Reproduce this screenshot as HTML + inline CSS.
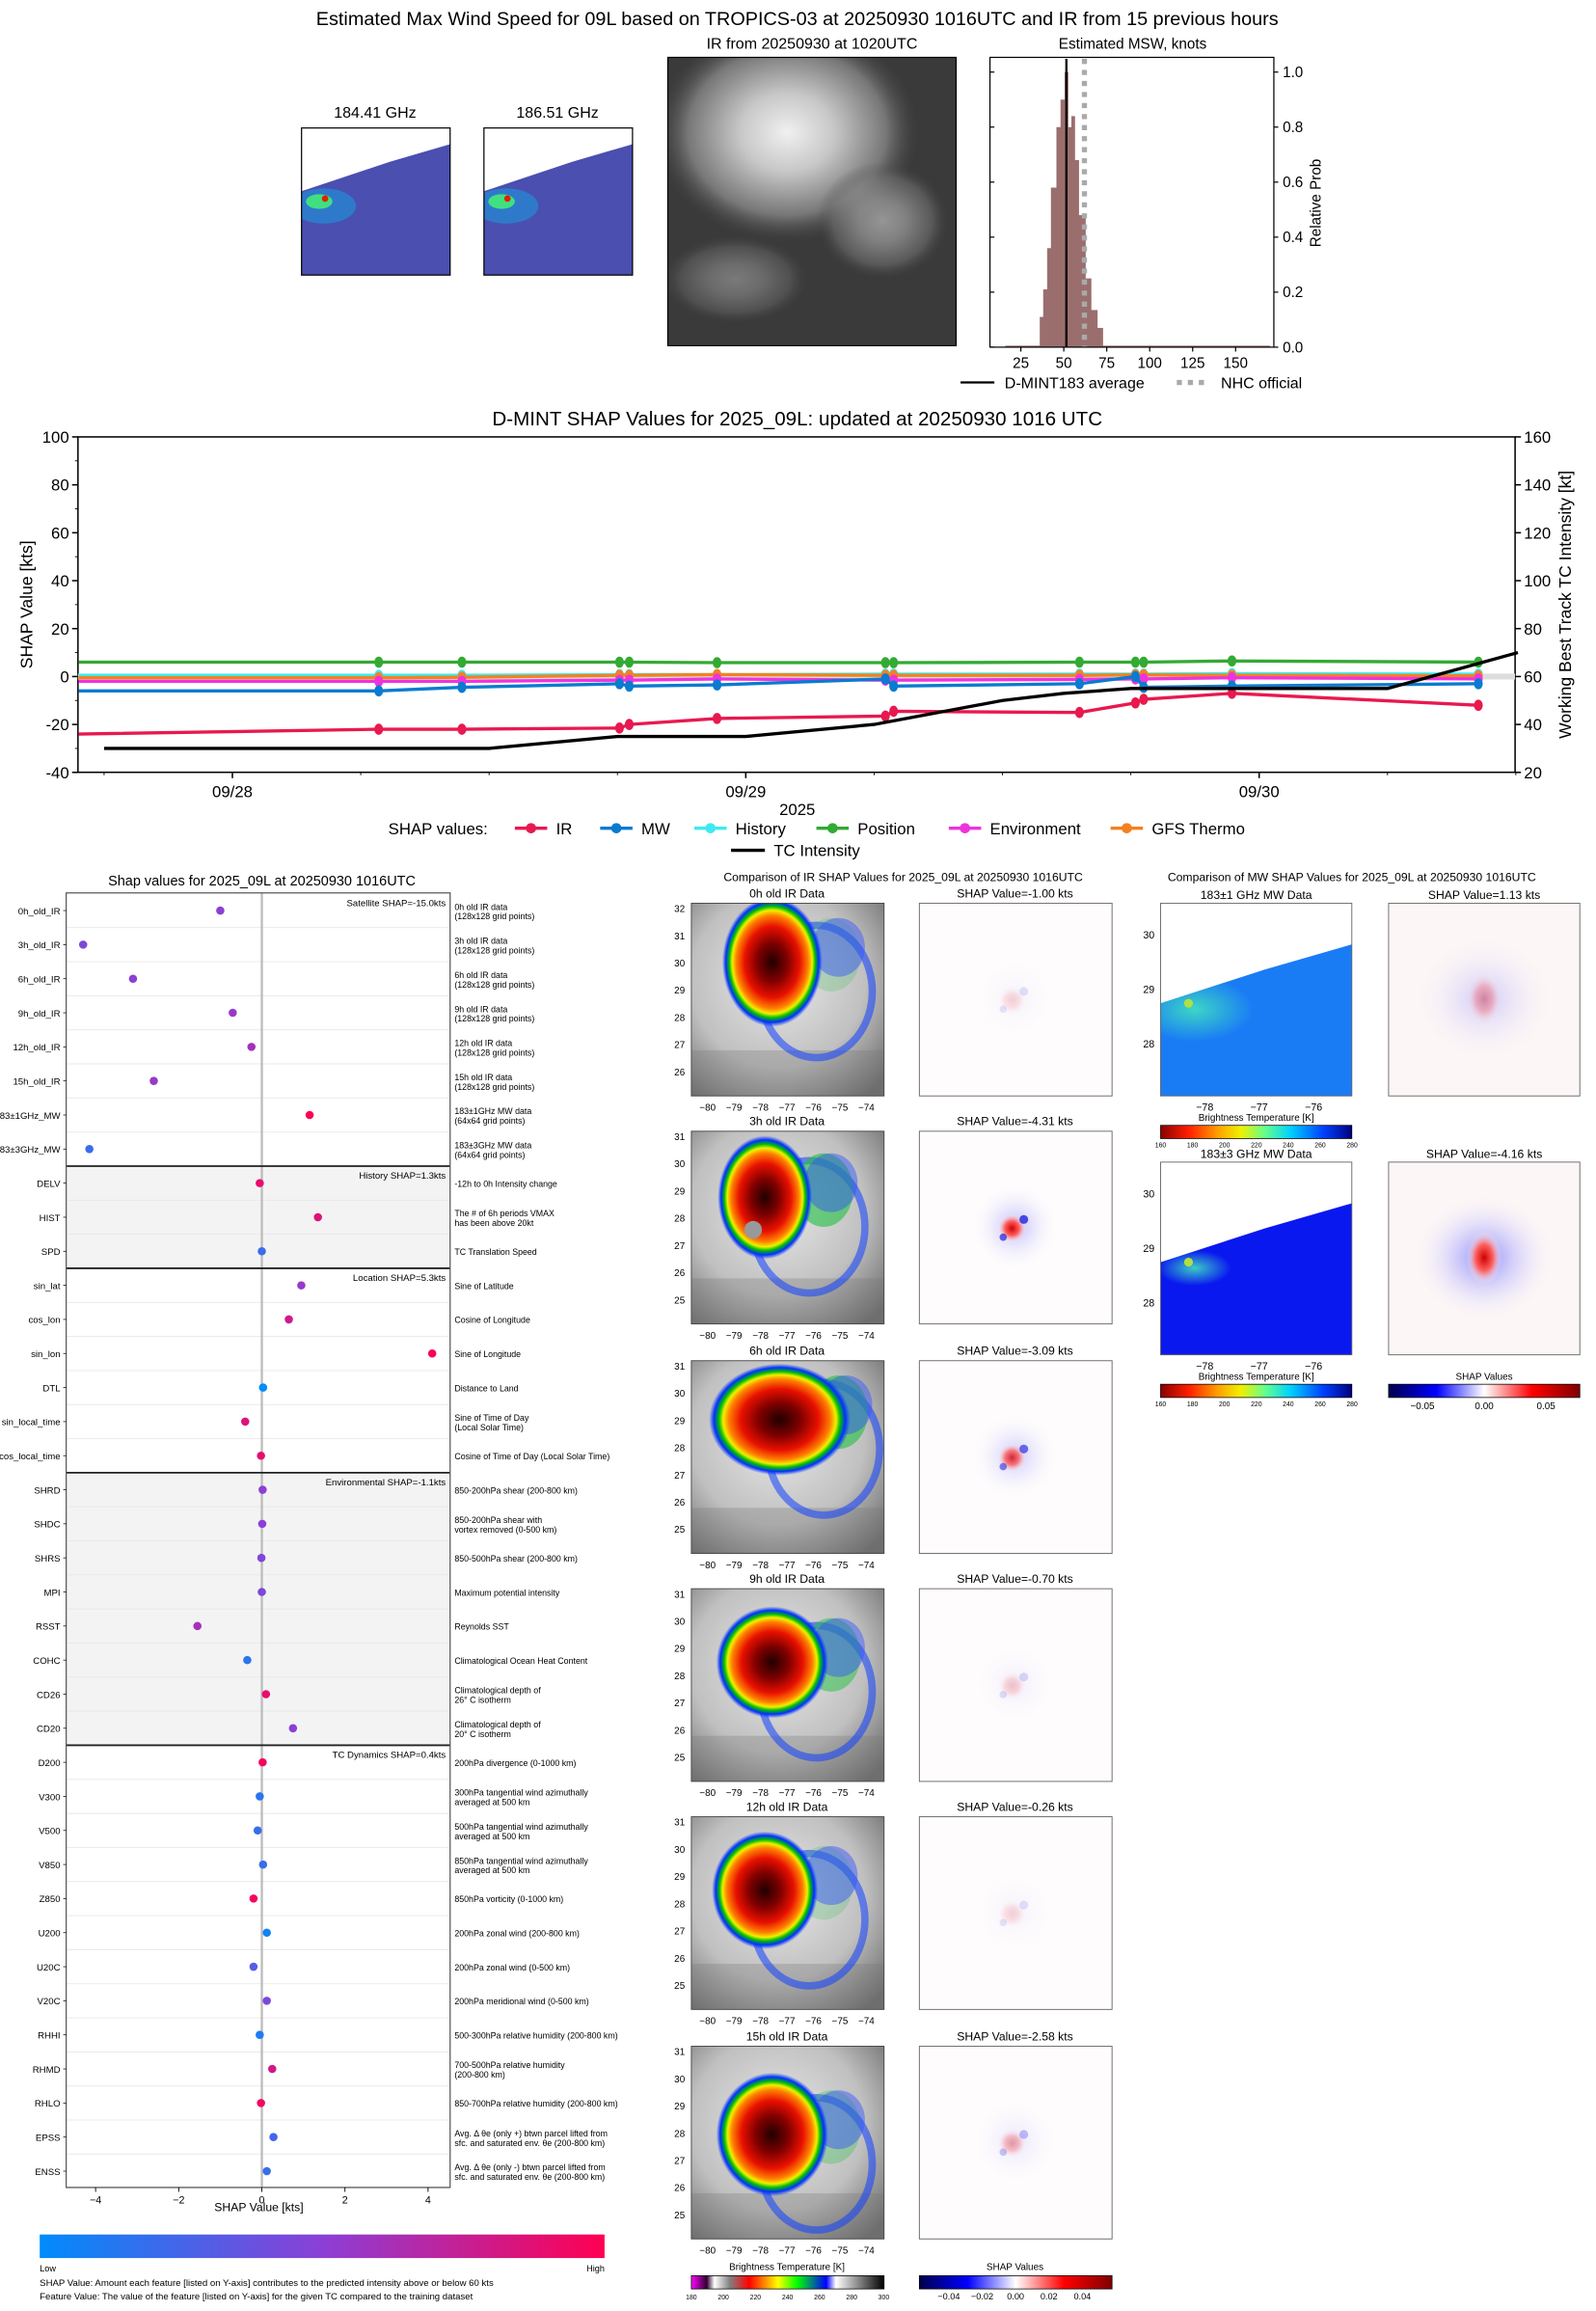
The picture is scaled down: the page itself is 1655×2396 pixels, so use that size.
<!DOCTYPE html>
<html><head><meta charset="utf-8"><style>
html,body{margin:0;padding:0;background:#fff}
svg{display:block;font-family:"Liberation Sans","DejaVu Sans",sans-serif}
</style></head><body>
<svg id="root" width="1655" height="2396" viewBox="0 0 1085 1571" preserveAspectRatio="none" xmlns="http://www.w3.org/2000/svg">
<defs id="defs">
<linearGradient id="mwcb" x1="0" x2="1" y1="0" y2="0">
<stop offset="0" stop-color="#8b0000"/><stop offset="0.15" stop-color="#ff2000"/><stop offset="0.3" stop-color="#ffa000"/><stop offset="0.42" stop-color="#f0f000"/><stop offset="0.55" stop-color="#60ff90"/><stop offset="0.68" stop-color="#00d0ff"/><stop offset="0.85" stop-color="#0040ff"/><stop offset="1" stop-color="#000080"/></linearGradient>
<linearGradient id="shapcb" x1="0" x2="1"><stop offset="0" stop-color="#00004c"/><stop offset="0.25" stop-color="#0000ff"/><stop offset="0.5" stop-color="#ffffff"/><stop offset="0.75" stop-color="#ff0000"/><stop offset="1" stop-color="#800000"/></linearGradient>
<linearGradient id="ircb" x1="0" x2="1"><stop offset="0" stop-color="#ff00ff"/><stop offset="0.08" stop-color="#300030"/><stop offset="0.12" stop-color="#ffffff"/><stop offset="0.2" stop-color="#808080"/><stop offset="0.3" stop-color="#ff0000"/><stop offset="0.45" stop-color="#ffff00"/><stop offset="0.55" stop-color="#00ff00"/><stop offset="0.7" stop-color="#0000ff"/><stop offset="0.75" stop-color="#ffffff"/><stop offset="1" stop-color="#000000"/></linearGradient>
<linearGradient id="featcb" x1="0" x2="1"><stop offset="0" stop-color="#008bfb"/><stop offset="0.5" stop-color="#8b3fd6"/><stop offset="1" stop-color="#ff0052"/></linearGradient>
<radialGradient id="irgray" cx="0.45" cy="0.4" r="0.75"><stop offset="0" stop-color="#e8e8e8"/><stop offset="0.6" stop-color="#c0c0c0"/><stop offset="1" stop-color="#6a6a6a"/></radialGradient>
<radialGradient id="ircore"><stop offset="0" stop-color="#200000"/><stop offset="0.3" stop-color="#800000"/><stop offset="0.55" stop-color="#e81000"/><stop offset="0.72" stop-color="#ff8000"/><stop offset="0.8" stop-color="#f0f000"/><stop offset="0.86" stop-color="#00c000"/><stop offset="0.93" stop-color="#0030ff"/><stop offset="1" stop-color="#0030ff" stop-opacity="0"/></radialGradient>
<radialGradient id="satgray"><stop offset="0" stop-color="#f0f0f0"/><stop offset="0.35" stop-color="#c8c8c8"/><stop offset="0.75" stop-color="#777"/><stop offset="1" stop-color="#444" stop-opacity="0"/></radialGradient>
<radialGradient id="shapblob"><stop offset="0" stop-color="#d00000"/><stop offset="0.5" stop-color="#ff6060"/><stop offset="1" stop-color="#ffffff" stop-opacity="0"/></radialGradient>
<radialGradient id="bluehalo"><stop offset="0" stop-color="#4040ff" stop-opacity="0.6"/><stop offset="1" stop-color="#ffffff" stop-opacity="0"/></radialGradient>
<radialGradient id="cyanblob"><stop offset="0" stop-color="#40e0c0"/><stop offset="1" stop-color="#40e0c0" stop-opacity="0"/></radialGradient>
</defs>
<g id="topgrp"></g>
<g id="line"></g>
<g id="feat"></g>
<g id="panels"></g>
</svg>
<script>
// ---------- histogram data ----------
const histEdges=[36,38,40.3,42.5,45.7,48.1,50.5,52.4,54.4,56.3,58.6,62.5,65.8,69.4,72.6];
const histProb=[0.11,0.21,0.36,0.58,0.8,0.9,1.0,0.8,0.84,0.68,0.48,0.25,0.135,0.07];
const histMean=[51.5];
const nhcOfficial=[62];
const histXTicks=[25,50,75,100,125,150];
const histYTicks=[0,0.2,0.4,0.6,0.8,1.0];
// ---------- SHAP time series ----------
const times=[-0.3,0.285,0.447,0.754,0.773,0.944,1.272,1.288,1.650,1.759,1.775,1.947,2.427];
const irVals=[-24,-22,-22,-21.5,-20,-17.5,-16.5,-14.5,-15,-11,-9.5,-7,-12];
const mwVals=[-6,-6,-4.5,-3,-4,-3.5,-1,-4,-3,0,-4.5,-4,-3];
const histVals=[0.5,0.5,0.5,0.8,0.8,0.8,1,1,1,1,1,1.2,1];
const posVals=[6,6,6,6,6,5.8,5.8,5.8,6,6,6,6.5,6];
const envVals=[-2,-2,-2,-1.5,-1.5,-1,-1.5,-1.5,-1.2,-1,-1,-0.5,-1];
const gfsVals=[-0.5,-0.5,-0.3,0.5,0.5,0.8,0.5,0.5,0.5,0.7,0.7,0.5,0.3];
const tcTimes=[-0.25,0.5,0.75,1.0,1.25,1.5,1.62,1.75,2.25,2.504];
const tcVals=[30,30,35,35,40,50,53,55,55,70];
const dateTicks=["09/28","09/29","09/30"];
const leftTicks=[-40,-20,0,20,40,60,80,100];
const rightTicks=[20,40,60,80,100,120,140,160];
// ---------- feature SHAP ----------
const featNames=["0h_old_IR","3h_old_IR","6h_old_IR","9h_old_IR","12h_old_IR","15h_old_IR","183±1GHz_MW","183±3GHz_MW","DELV","HIST","SPD","sin_lat","cos_lon","sin_lon","DTL","sin_local_time","cos_local_time","SHRD","SHDC","SHRS","MPI","RSST","COHC","CD26","CD20","D200","V300","V500","V850","Z850","U200","U20C","V20C","RHHI","RHMD","RHLO","EPSS","ENSS"];
const featVals=[-1.0,-4.3,-3.1,-0.7,-0.25,-2.6,1.15,-4.15,-0.05,1.35,0,0.95,0.65,4.1,0.03,-0.4,-0.02,0.02,0.01,-0.01,0,-1.55,-0.35,0.1,0.75,0.02,-0.05,-0.1,0.03,-0.2,0.12,-0.2,0.12,-0.05,0.25,-0.02,0.28,0.12];
const featLevel=[0.5,0.45,0.5,0.55,0.6,0.55,1,0.2,0.9,0.85,0.2,0.55,0.8,1,0,0.85,0.9,0.5,0.5,0.45,0.45,0.6,0.15,0.9,0.5,0.95,0.15,0.2,0.2,0.95,0.05,0.3,0.45,0.1,0.8,0.95,0.25,0.2];
const featDesc=[["0h old IR data","(128x128 grid points)"],["3h old IR data","(128x128 grid points)"],["6h old IR data","(128x128 grid points)"],["9h old IR data","(128x128 grid points)"],["12h old IR data","(128x128 grid points)"],["15h old IR data","(128x128 grid points)"],["183±1GHz MW data","(64x64 grid points)"],["183±3GHz MW data","(64x64 grid points)"],["-12h to 0h Intensity change"],["The # of 6h periods VMAX","has been above 20kt"],["TC Translation Speed"],["Sine of Latitude"],["Cosine of Longitude"],["Sine of Longitude"],["Distance to Land"],["Sine of Time of Day","(Local Solar Time)"],["Cosine of Time of Day (Local Solar Time)"],["850-200hPa shear (200-800 km)"],["850-200hPa shear with","vortex removed (0-500 km)"],["850-500hPa shear (200-800 km)"],["Maximum potential intensity"],["Reynolds SST"],["Climatological Ocean Heat Content"],["Climatological depth of","26° C isotherm"],["Climatological depth of","20° C isotherm"],["200hPa divergence (0-1000 km)"],["300hPa tangential wind azimuthally","averaged at 500 km"],["500hPa tangential wind azimuthally","averaged at 500 km"],["850hPa tangential wind azimuthally","averaged at 500 km"],["850hPa vorticity (0-1000 km)"],["200hPa zonal wind (200-800 km)"],["200hPa zonal wind (0-500 km)"],["200hPa meridional wind (0-500 km)"],["500-300hPa relative humidity (200-800 km)"],["700-500hPa relative humidity","(200-800 km)"],["850-700hPa relative humidity (200-800 km)"],["Avg. Δ θe (only +) btwn parcel lifted from","sfc. and saturated env. θe (200-800 km)"],["Avg. Δ θe (only -) btwn parcel lifted from","sfc. and saturated env. θe (200-800 km)"]];
const groupStart=[0,8,11,17,25];
const groupLabel=["Satellite SHAP=-15.0kts","History SHAP=1.3kts","Location SHAP=5.3kts","Environmental SHAP=-1.1kts","TC Dynamics SHAP=0.4kts"];
const featXTicks=[-4,-2,0,2,4];
const irTitles=["0h old IR Data","3h old IR Data","6h old IR Data","9h old IR Data","12h old IR Data","15h old IR Data"];
const irShap=["-1.00","-4.31","-3.09","-0.70","-0.26","-2.58"];

const NS="http://www.w3.org/2000/svg";
function mk(parent,tag,attrs,text){const e=document.createElementNS(NS,tag);for(const k in attrs)e.setAttribute(k,attrs[k]);if(text!==undefined)e.textContent=text;parent.appendChild(e);return e;}
function txt(parent,x,y,s,size,anchor,extra){const a={x:x,y:y,'font-size':size,'text-anchor':anchor||'middle',fill:'#000'};if(extra)Object.assign(a,extra);return mk(parent,'text',a,s);}
const DEFS=document.getElementById('defs');
let clipN=0;
function clipG(parent,x,y,w,h){const id='cp'+(clipN++);const cp=mk(DEFS,'clipPath',{id:id});mk(cp,'rect',{x:x,y:y,width:w,height:h});return mk(parent,'g',{'clip-path':'url(#'+id+')'});}

// ================= TOP =================
const topG=document.getElementById('topgrp');
let tt=txt(topG,542,17,"Estimated Max Wind Speed for 09L based on TROPICS-03 at 20250930 1016UTC and IR from 15 previous hours",13);


function mwThumb(x,lab,nm){
  const g=mk(topG,'g',{});
  
  
  txt(g,x+50,80,lab,10.5);
  const c=clipG(g,x,87,101,100);
  mk(c,'rect',{x:x,y:87,width:101,height:100,fill:'#4a4fb0'});
  mk(c,'ellipse',{cx:x+15,cy:140,rx:22,ry:12,fill:'#2a80d0',opacity:0.85});
  mk(c,'ellipse',{cx:x+12,cy:137,rx:9,ry:5,fill:'#40e080'});
  mk(c,'circle',{cx:x+16,cy:135,r:2.2,fill:'#e02000'});
  mk(c,'polygon',{points:`${x},87 ${x+101},87 ${x+101},98 ${x+60},110 ${x+30},120 ${x},130`,fill:'#fff'});
  mk(g,'rect',{x:x,y:87,width:101,height:100,fill:'none',stroke:'#000','stroke-width':0.8});
}
mwThumb(205,"184.41 GHz","mw-184-thumbnail");
mwThumb(329,"186.51 GHz","mw-186-thumbnail");
{const g=mk(topG,'g',{});


txt(g,552,33,"IR from 20250930 at 1020UTC",10.5);
const c=clipG(g,454,39,196,196);
mk(c,'rect',{x:454,y:39,width:196,height:196,fill:'#3a3a3a'});
mk(c,'ellipse',{cx:535,cy:90,rx:90,ry:75,fill:'url(#satgray)'});
mk(c,'ellipse',{cx:600,cy:150,rx:45,ry:40,fill:'url(#satgray)',opacity:0.5});
mk(c,'ellipse',{cx:500,cy:190,rx:50,ry:30,fill:'url(#satgray)',opacity:0.35});
mk(g,'rect',{x:454,y:39,width:196,height:196,fill:'none',stroke:'#000','stroke-width':0.8});}
{const g=mk(topG,'g',{});


const X0=673,X1=866,Y0=236;
const hx=v=>694+(v-25)*1.168, hy=p=>Y0-p*187;
txt(g,770,33,"Estimated MSW, knots",10);
mk(g,'line',{x1:hx(16),x2:hx(170),y1:Y0-0.5,y2:Y0-0.5,stroke:'#9b6e6e','stroke-width':1});
for(let i=0;i<histProb.length;i++){
  const r=mk(g,'rect',{x:hx(histEdges[i]),y:hy(histProb[i]),width:hx(histEdges[i+1])-hx(histEdges[i])+0.3,height:Y0-hy(histProb[i]),fill:'#9b6e6e'});
  
  
}
const ml=mk(g,'line',{x1:hx(histMean[0]),x2:hx(histMean[0]),y1:40,y2:Y0,stroke:'#000','stroke-width':1.5});


const nl=mk(g,'line',{x1:hx(nhcOfficial[0]),x2:hx(nhcOfficial[0]),y1:40,y2:Y0,stroke:'#aaa','stroke-width':3.5,'stroke-dasharray':'3.5,4'});


mk(g,'rect',{x:X0,y:39,width:X1-X0,height:Y0-39,fill:'none',stroke:'#000','stroke-width':0.8});
histXTicks.forEach(v=>{mk(g,'line',{x1:hx(v),x2:hx(v),y1:Y0,y2:Y0+3,stroke:'#000','stroke-width':0.8});txt(g,hx(v),Y0+14,String(v),10);});
histYTicks.forEach(v=>{mk(g,'line',{x1:X1,x2:X1+3,y1:hy(v),y2:hy(v),stroke:'#000','stroke-width':0.8});mk(g,'line',{x1:X0,x2:X0+3,y1:hy(v),y2:hy(v),stroke:'#000','stroke-width':0.8});txt(g,X1+6,hy(v)+3.5,v.toFixed(1),10,'start');});
txt(g,898,138,"Relative Prob",10,'middle',{transform:'rotate(-90 898 138)'});
const lg=mk(g,'g',{});


mk(lg,'line',{x1:653,x2:676,y1:260,y2:260,stroke:'#000','stroke-width':1.5});
txt(lg,683,264,"D-MINT183 average",10.5,'start');
mk(lg,'line',{x1:800,x2:822,y1:260,y2:260,stroke:'#aaa','stroke-width':3.5,'stroke-dasharray':'3.5,4'});
txt(lg,830,264,"NHC official",10.5,'start');}

// ================= LINE CHART =================
const L=document.getElementById('line');
{const X0=53,X1=1030,Y0=297,Y1=525;
const lx=d=>158+d*349, ly=v=>Y0+(100-v)*1.629, ry=v=>Y0+(160-v)*1.629;
const ttl=txt(L,542,289,"D-MINT SHAP Values for 2025_09L: updated at 20250930 1016 UTC",13.5);


mk(L,'rect',{x:X0,y:Y0,width:X1-X0,height:Y1-Y0,fill:'#fff',stroke:'#000','stroke-width':1});
mk(L,'line',{x1:X0,x2:X1,y1:ly(0),y2:ly(0),stroke:'#ddd','stroke-width':4});
leftTicks.forEach(v=>{mk(L,'line',{x1:X0-4,x2:X0,y1:ly(v),y2:ly(v),stroke:'#000'});txt(L,X0-6,ly(v)+4,String(v),11,'end');});
for(let v=-30;v<=90;v+=20){mk(L,'line',{x1:X0-2,x2:X0,y1:ly(v),y2:ly(v),stroke:'#000','stroke-width':0.6});}
rightTicks.forEach(v=>{mk(L,'line',{x1:X1,x2:X1+4,y1:ry(v),y2:ry(v),stroke:'#000'});txt(L,X1+6,ry(v)+4,String(v),11,'start');});
dateTicks.forEach((s,i)=>{mk(L,'line',{x1:lx(i),x2:lx(i),y1:Y1,y2:Y1+4,stroke:'#000'});txt(L,lx(i),Y1+17,s,11);});
for(let d=-0.25;d<2.6;d+=0.25){mk(L,'line',{x1:lx(d),x2:lx(d),y1:Y1,y2:Y1+2,stroke:'#000','stroke-width':0.6});}
txt(L,542,554,"2025",11);
txt(L,22,411,"SHAP Value [kts]",11.5,'middle',{transform:'rotate(-90 22 411)'});
txt(L,1068,411,"Working Best Track TC Intensity [kt]",11.5,'middle',{transform:'rotate(-90 1068 411)'});
const series=[["IR",irVals,"#e8194f"],["MW",mwVals,"#0a7bd0"],["History",histVals,"#3eeaf0"],["Position",posVals,"#33aa33"],["Environment",envVals,"#ee33dd"],["GFS Thermo",gfsVals,"#f58020"]];
const order=[3,2,5,4,1,0];
order.forEach(si=>{const nm=series[si][0],vals=series[si][1],c=series[si][2];
  const g=mk(L,'g',{});
  
  
  mk(g,'polyline',{points:vals.map((v,i)=>lx(Math.max(times[i],-0.3))+','+ly(v)).join(' '),fill:'none',stroke:c,'stroke-width':2.2});
  vals.forEach((v,i)=>{if(i>0)mk(g,'ellipse',{cx:lx(times[i]),cy:ly(v),rx:3,ry:3.8,fill:c});});
});
const tc=mk(L,'polyline',{points:tcVals.map((v,i)=>lx(tcTimes[i])+','+ry(v)).join(' '),fill:'none',stroke:'#000','stroke-width':2.2});


const lg=mk(L,'g',{});


txt(lg,264,567,"SHAP values:",11,'start');
const lxpos=[350,408,472,555,645,755];
series.forEach((s,i)=>{const nm=s[0],c=s[2];mk(lg,'line',{x1:lxpos[i],x2:lxpos[i]+22,y1:563,y2:563,stroke:c,'stroke-width':2.2});mk(lg,'circle',{cx:lxpos[i]+11,cy:563,r:3.5,fill:c});txt(lg,lxpos[i]+28,567,nm,11,'start');});
mk(lg,'line',{x1:497,x2:520,y1:578,y2:578,stroke:'#000','stroke-width':2.2});
txt(lg,526,582,"TC Intensity",11,'start');}

// ================= FEATURE SHAP =================
const F=document.getElementById('feat');
{const X0=45,X1=306,Y0=607,Y1=1487,ROW=23.16;
const fx=v=>178+v*28.25, fy=i=>619+i*ROW;
txt(F,178,602,"Shap values for 2025_09L at 20250930 1016UTC",9.5);
mk(F,'rect',{x:X0,y:Y0,width:X1-X0,height:Y1-Y0,fill:'#fff'});
[1,3].forEach(gi=>{const a=groupStart[gi],b=groupStart[gi+1];mk(F,'rect',{x:X0,y:fy(a)-ROW/2,width:X1-X0,height:(b-a)*ROW,fill:'#f3f3f3'});});
for(let i=0;i<featNames.length;i++){mk(F,'line',{x1:X0,x2:X1,y1:fy(i)+ROW/2,y2:fy(i)+ROW/2,stroke:'#e8e8e8','stroke-width':0.6});}
mk(F,'line',{x1:fx(0),x2:fx(0),y1:Y0,y2:Y1,stroke:'#bbb','stroke-width':1.5});
groupStart.forEach((s,gi)=>{if(gi>0)mk(F,'line',{x1:X0,x2:X1,y1:fy(s)-ROW/2,y2:fy(s)-ROW/2,stroke:'#222','stroke-width':1.2});txt(F,X1-3,fy(s)-3,groupLabel[gi],6.3,'end');});
mk(F,'rect',{x:X0,y:Y0,width:X1-X0,height:Y1-Y0,fill:'none',stroke:'#555','stroke-width':0.8});
function col(l){const a=[0,139,251],m=[139,63,214],b=[255,0,82];let c;if(l<0.5){const q=l*2;c=a.map((v,k)=>Math.round(v+(m[k]-v)*q));}else{const q=(l-0.5)*2;c=m.map((v,k)=>Math.round(v+(b[k]-v)*q));}return 'rgb('+c.join(',')+')';}
featNames.forEach((n,i)=>{
  txt(F,X0-4,fy(i)+2.5,n,6.3,'end');
  mk(F,'line',{x1:X0-2,x2:X0,y1:fy(i),y2:fy(i),stroke:'#000','stroke-width':0.5});
  const d=featDesc[i];
  if(d.length===1)txt(F,X1+3,fy(i)+2.5,d[0],5.8,'start');
  else{txt(F,X1+3,fy(i)-0.5,d[0],5.8,'start');txt(F,X1+3,fy(i)+6,d[1],5.8,'start');}
  const c=mk(F,'circle',{cx:fx(featVals[i]),cy:fy(i),r:2.8,fill:col(featLevel[i])});
  
  
});
featXTicks.forEach(v=>{mk(F,'line',{x1:fx(v),x2:fx(v),y1:Y1,y2:Y1+3,stroke:'#000','stroke-width':0.6});txt(F,fx(v),Y1+11,String(v).replace('-','−'),7);});
txt(F,176,1503,"SHAP Value [kts]",8);
const cb=mk(F,'rect',{x:27,y:1519,width:384,height:16,fill:'url(#featcb)'});


txt(F,27,1544,"Low",6,'start');txt(F,411,1544,"High",6,'end');
txt(F,27,1554,"SHAP Value: Amount each feature [listed on Y-axis] contributes to the predicted intensity above or below 60 kts",6.3,'start');
txt(F,27,1563,"Feature Value: The value of the feature [listed on Y-axis] for the given TC compared to the training dataset",6.3,'start');}

// ================= IR / MW PANELS =================
const P=document.getElementById('panels');
txt(P,614,599,"Comparison of IR SHAP Values for 2025_09L at 20250930 1016UTC",8);
txt(P,919,599,"Comparison of MW SHAP Values for 2025_09L at 20250930 1016UTC",8);
const rowY=[614,769,925,1080,1235,1391];
const lonT=["−80","−79","−78","−77","−76","−75","−74"];
rowY.forEach((y,r)=>{
  const g=mk(P,'g',{});
  
  
  txt(g,535,y-4,irTitles[r],8);
  const c=clipG(g,470,y,131,131);
  mk(c,'rect',{x:470,y:y,width:131,height:131,fill:'url(#irgray)'});
  mk(c,'rect',{x:470,y:y+100,width:131,height:31,fill:'#777',opacity:0.3});
  const cx=[525,520,530,525,520,525][r], cy=[y+40,y+45,y+40,y+50,y+50,y+60][r];
  // outer blue/green cloud bands
  mk(c,'ellipse',{cx:cx+30,cy:cy+20,rx:38,ry:45,fill:'none',stroke:'#1040ff','stroke-width':5,opacity:0.55});
  mk(c,'ellipse',{cx:cx+40,cy:cy-5,rx:20,ry:25,fill:'#20c040',opacity:[0.2,0.6,0.6,0.5,0.2,0.3][r]});
  mk(c,'ellipse',{cx:cx+45,cy:cy-10,rx:18,ry:20,fill:'#3050ff',opacity:0.45});
  mk(c,'ellipse',{cx:cx,cy:cy,rx:[34,32,48,38,36,38][r],ry:[44,42,38,38,40,42][r],fill:'url(#ircore)'});
  if(r===1)mk(c,'circle',{cx:cx-8,cy:cy+22,r:6,fill:'#999'});
  mk(g,'rect',{x:470,y:y,width:131,height:131,fill:'none',stroke:'#444','stroke-width':0.6});
  lonT.forEach((s,k)=>txt(g,481+k*18,y+141,s,6.5));
  for(let k=0;k<7;k++){txt(g,462,y+6+k*18.5,String(32-k-(r>0?1:0)),6.5);}
  const s=mk(P,'g',{});
  
  
  txt(s,690,y-4,"SHAP Value="+irShap[r]+" kts",8);
  mk(s,'rect',{x:625,y:y,width:131,height:131,fill:'#fefcfc',stroke:'#666','stroke-width':0.6});
  const sc=clipG(s,625,y,131,131);
  const strong=[0.15,1,0.8,0.2,0.15,0.35][r];
  mk(sc,'circle',{cx:690,cy:y+65,r:30,fill:'url(#bluehalo)',opacity:strong*0.6});
  mk(sc,'circle',{cx:688,cy:y+66,r:10,fill:'url(#shapblob)',opacity:strong});
  mk(sc,'circle',{cx:696,cy:y+60,r:3,fill:'#2020e0',opacity:strong*0.8});
  mk(sc,'circle',{cx:682,cy:y+72,r:2.5,fill:'#2020e0',opacity:strong*0.7});
});
{const g=mk(P,'g',{});


txt(g,535,1543,"Brightness Temperature [K]",6.5);
mk(g,'rect',{x:470,y:1547,width:131,height:9,fill:'url(#ircb)',stroke:'#000','stroke-width':0.5});
["180","200","220","240","260","280","300"].forEach((s,k)=>txt(g,470+k*21.8,1563,s,4.5));
const h=mk(P,'g',{});


txt(h,690,1543,"SHAP Values",6.5);
mk(h,'rect',{x:625,y:1547,width:131,height:9,fill:'url(#shapcb)',stroke:'#000','stroke-width':0.5});
["−0.04","−0.02","0.00","0.02","0.04"].forEach((s,k)=>txt(h,645+k*22.7,1563,s,6));}
[[614,"183±1 GHz MW Data","SHAP Value=1.13 kts",'#1a7cf5',0.35],[790,"183±3 GHz MW Data","SHAP Value=-4.16 kts",'#0a18f0',1]].forEach((p,r)=>{
  const y=p[0],t1=p[1],t2=p[2],c=p[3],str=p[4];
  const g=mk(P,'g',{});
  
  
  txt(g,854,y-3,t1,8);
  const cc=clipG(g,789,y,130,131);
  mk(cc,'rect',{x:789,y:y,width:130,height:131,fill:c});
  mk(cc,'ellipse',{cx:812,cy:y+72,rx:[40,25][r],ry:[22,12][r],fill:'url(#cyanblob)',opacity:0.9});
  mk(cc,'circle',{cx:808,cy:y+68,r:3,fill:'#b0e040'});
  mk(cc,'polygon',{points:`789,${y} 919,${y} 919,${y+28} 860,${y+45} 789,${y+68}`,fill:'#fff'});
  mk(g,'rect',{x:789,y:y,width:130,height:131,fill:'none',stroke:'#666','stroke-width':0.6});
  ["−78","−77","−76"].forEach((s,k)=>txt(g,819+k*37,y+141,s,7));
  ["30","29","28"].forEach((s,k)=>txt(g,781,y+24+k*37,s,7));
  txt(g,854,y+148,"Brightness Temperature [K]",6.5);
  mk(g,'rect',{x:789,y:y+151,width:130,height:9,fill:'url(#mwcb)',stroke:'#000','stroke-width':0.5});
  ["160","180","200","220","240","260","280"].forEach((s,k)=>txt(g,789+k*21.7,y+166,s,4.5));
  const s=mk(P,'g',{});
  
  
  txt(s,1009,y-3,t2,8);
  mk(s,'rect',{x:944,y:y,width:130,height:131,fill:'#fdf6f6',stroke:'#666','stroke-width':0.6});
  const sc=clipG(s,944,y,130,131);
  mk(sc,'ellipse',{cx:1009,cy:y+65,rx:50,ry:45,fill:'url(#bluehalo)',opacity:str*0.9+0.1});
  mk(sc,'ellipse',{cx:1009,cy:y+65,rx:12,ry:18,fill:'url(#shapblob)',opacity:str});
});
{const h=mk(P,'g',{});


txt(h,1009,938,"SHAP Values",6.5);
mk(h,'rect',{x:944,y:941,width:130,height:9,fill:'url(#shapcb)',stroke:'#000','stroke-width':0.5});
["−0.05","0.00","0.05"].forEach((s,k)=>txt(h,967+k*42,958,s,6.5));}
</script>
</body></html>
